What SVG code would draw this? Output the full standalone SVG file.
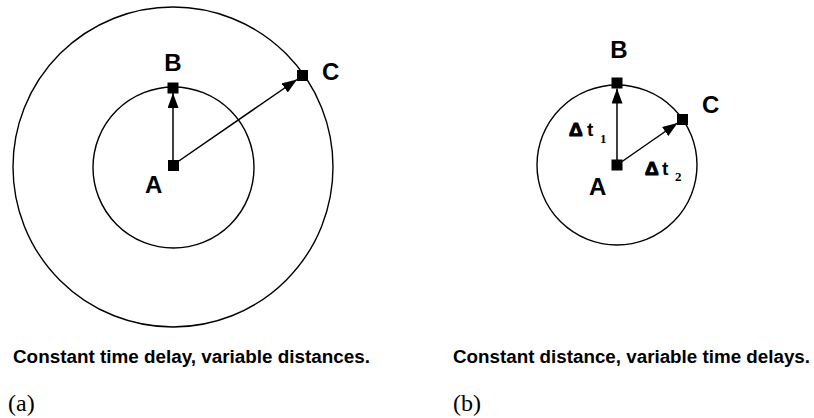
<svg xmlns="http://www.w3.org/2000/svg" width="814" height="418" viewBox="0 0 814 418">
<style>
.circ{fill:none;stroke:#000;stroke-width:1.4}
.node{fill:#000}
.lbl{font-family:"Liberation Sans",Arial,sans-serif;font-weight:bold;font-size:24px;fill:#000}
.cap{font-family:"Liberation Sans",Arial,sans-serif;font-weight:bold;font-size:18px;fill:#000}
.sub{font-family:"Liberation Serif","Times New Roman",serif;font-size:24px;fill:#000}
.dt{font-family:"Liberation Sans",Arial,sans-serif;font-weight:bold;font-size:19px;fill:#000}
.delta{stroke:#000;stroke-width:1.2;stroke-linejoin:round}
.idx{font-family:"Liberation Serif","Times New Roman",serif;font-weight:bold;font-size:13px;fill:#000}
.conn{stroke:#000;stroke-width:1.5;fill:none;marker-end:url(#ah)}
</style>
<defs>
<marker id="ah" markerUnits="userSpaceOnUse" markerWidth="17" markerHeight="12" refX="15" refY="5.5" orient="auto">
<path d="M0,0 L15,5.5 L0,11 Z" fill="#000"/>
</marker>
</defs>
<rect width="814" height="418" fill="#fff"/>
<g id="diagram-a">
<circle class="circ" cx="173" cy="167" r="160"/>
<circle class="circ" cx="173.5" cy="167.5" r="80.5"/>
</g>
<g id="diagram-b">
<circle class="circ" cx="617" cy="165" r="80"/>
</g>
<g id="connectors">
<line class="conn" x1="173" y1="165" x2="173" y2="93"/>
<line class="conn" x1="173" y1="165" x2="297" y2="79.5"/>
<line class="conn" x1="617" y1="165" x2="617" y2="88.5"/>
<line class="conn" x1="617" y1="165" x2="677.5" y2="123"/>
</g>
<g id="a-A"><rect class="node" x="168" y="160" width="11" height="11"/><text class="lbl" x="145" y="193">A</text></g>
<g id="a-B"><rect class="node" x="167.5" y="82.5" width="11" height="11"/><text class="lbl" x="173" y="71" text-anchor="middle">B</text></g>
<g id="a-C"><rect class="node" x="297" y="70" width="11" height="11"/><text class="lbl" x="322" y="80">C</text></g>
<g id="b-A"><rect class="node" x="611.5" y="159.5" width="11" height="11"/><text class="lbl" x="589" y="195">A</text></g>
<g id="b-B"><rect class="node" x="611.5" y="77.5" width="11" height="11"/><text class="lbl" x="619" y="58" text-anchor="middle">B</text></g>
<g id="b-C"><rect class="node" x="677" y="114" width="11" height="11"/><text class="lbl" x="702" y="113">C</text></g>
<g id="labels">
<text class="dt delta" x="569" y="136">Δ</text><text class="dt" x="587" y="136">t</text><text class="idx" x="600" y="143">1</text>
<text class="dt delta" x="645" y="175">Δ</text><text class="dt" x="662" y="175">t</text><text class="idx" x="675" y="181">2</text>
<text class="cap" x="13" y="363" textLength="357" lengthAdjust="spacingAndGlyphs">Constant time delay, variable distances.</text>
<text class="cap" x="453" y="363" textLength="357" lengthAdjust="spacingAndGlyphs">Constant distance, variable time delays.</text>
<text class="sub" x="8" y="411">(a)</text>
<text class="sub" x="453" y="411">(b)</text>
</g>
</svg>
